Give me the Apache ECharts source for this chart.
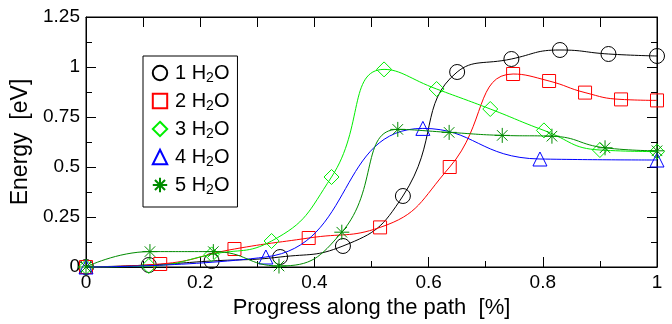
<!DOCTYPE html>
<html><head><meta charset="utf-8">
<script src="https://cdn.jsdelivr.net/npm/echarts@6/dist/echarts.min.js"></script>
<style>html,body{margin:0;padding:0;background:#fff}#c{width:672px;height:324px}</style>
</head><body><div id="c"></div>
<script>
// ---- data ----
const seriesNames = ['1 H2O', '2 H2O', '3 H2O', '4 H2O', '5 H2O'];
const x1 = [0, 0.11, 0.22, 0.34, 0.45, 0.555, 0.65, 0.745, 0.83, 0.915, 1];
const y1 = [0, 0.01, 0.03, 0.05, 0.105, 0.355, 0.975, 1.04, 1.085, 1.065, 1.055];
const x2 = [0, 0.13, 0.26, 0.39, 0.515, 0.637, 0.748, 0.811, 0.874, 0.937, 1];
const y2 = [0, 0.015, 0.09, 0.145, 0.198, 0.5, 0.965, 0.93, 0.872, 0.838, 0.833];
const x3 = [0, 0.11, 0.22, 0.325, 0.43, 0.522, 0.614, 0.708, 0.802, 0.9, 1];
const y3 = [0, 0.005, 0.063, 0.13, 0.45, 0.988, 0.89, 0.79, 0.683, 0.585, 0.577];
const x4 = [0, 0.315, 0.59, 0.795, 1];
const y4 = [0, 0.05, 0.693, 0.54, 0.535];
const x5 = [0, 0.112, 0.223, 0.338, 0.448, 0.546, 0.636, 0.729, 0.816, 0.909, 1];
const y5 = [0, 0.077, 0.077, 0.005, 0.174, 0.688, 0.673, 0.658, 0.654, 0.596, 0.581];
const xTicks = [0, 0.2, 0.4, 0.6, 0.8, 1];
const yTicks = [0, 0.25, 0.5, 0.75, 1, 1.25];
const xTitle = 'Progress along the path  [%]';
const yTitle = 'Energy  [eV]';

const colors = ['#000000', '#ff0000', '#00ee00', '#0000ff', '#008b00'];
const symbols = ['circle', 'rect', 'diamond', 'triangle',
  'path://M0,-10L0,10M-10,0L10,0M-7,-7L7,7M-7,7L7,-7'];
const sizes = [15, 13, 15, 14, 15];
const xs = [x1, x2, x3, x4, x5];
const ys = [y1, y2, y3, y4, y5];

const FONT = 'Liberation Sans';
const series = seriesNames.map((n, i) => ({
  name: n,
  type: 'line',
  xAxisIndex: 0, yAxisIndex: 0,
  data: xs[i].map((x, k) => [x, ys[i][k]]),
  smooth: 0.5,
  clip: false,
  symbol: symbols[i],
  symbolSize: sizes[i],
  showAllSymbol: true,
  lineStyle: { color: colors[i], width: 1 },
  itemStyle: { color: 'rgba(255,255,255,0)', borderColor: colors[i], borderWidth: 1 },
  emphasis: { disabled: true },
  z: 2 + i
}));
// empty helper series so the mirrored top/right axes are drawn
series.push({ name: '_frame', type: 'line', xAxisIndex: 1, yAxisIndex: 1, data: [], silent: true });

const mkLine = () => ({ show: true, onZero: false, lineStyle: { color: '#000', width: 1 } });
const hiddenLabel = { show: true, color: 'rgba(0,0,0,0)', formatter: () => '' };
const option = {
  animation: false,
  backgroundColor: '#fff',
  textStyle: { fontFamily: FONT },
  grid: { left: 86, right: 15, top: 17, bottom: 57, containLabel: false, outerBoundsMode: 'none',
    show: true, borderColor: '#000', borderWidth: 1, backgroundColor: 'rgba(0,0,0,0)' },
  legend: {
    left: 143, top: 56,
    orient: 'vertical',
    data: seriesNames,
    backgroundColor: '#fff',
    borderColor: '#000', borderWidth: 1, borderRadius: 0,
    padding: [7, 8, 10, 6],
    itemWidth: 20, itemHeight: 18, itemGap: 6,
    lineStyle: { opacity: 0 },
    formatter: n => '{a|' + n.replace('H2O', 'H') + '}{s|2}{a|O}',
    textStyle: {
      color: '#000', fontFamily: FONT,
      rich: {
        a: { fontSize: 20, fontFamily: FONT, color: '#000', lineHeight: 22 },
        s: { fontSize: 14, fontFamily: FONT, color: '#000', padding: [10, 0, 0, 0] }
      }
    },
    selectedMode: false
  },
  xAxis: [{
    type: 'value', min: 0, max: 1, interval: 0.2, position: 'bottom',
    axisLine: mkLine(),
    axisTick: { inside: true, length: 10, lineStyle: { color: '#000' } },
    minorTick: { show: true, splitNumber: 2, length: 6, lineStyle: { color: '#000' } },
    splitLine: { show: false },
    axisLabel: { fontSize: 19, color: '#000', margin: 6, fontFamily: FONT,
      formatter: v => String(xTicks.reduce((a, b) => Math.abs(b - v) < Math.abs(a - v) ? b : a)) },
    name: xTitle, nameLocation: 'middle', nameGap: 26,
    nameTextStyle: { fontSize: 22, color: '#000', fontFamily: FONT }
  }, {
    type: 'value', min: 0, max: 1, interval: 0.1, position: 'top',
    axisLine: mkLine(),
    axisTick: { show: true, inside: true, length: 10, lineStyle: { color: '#000', width: 1 } },
    splitLine: { show: false },
    axisLabel: hiddenLabel
  }],
  yAxis: [{
    type: 'value', min: 0, max: 1.25, interval: 0.25, position: 'left',
    axisLine: mkLine(),
    axisTick: { inside: true, length: 10, lineStyle: { color: '#000' } },
    minorTick: { show: true, splitNumber: 2, length: 6, lineStyle: { color: '#000' } },
    splitLine: { show: false },
    axisLabel: { fontSize: 19, color: '#000', margin: 6, fontFamily: FONT,
      formatter: v => String(yTicks.reduce((a, b) => Math.abs(b - v) < Math.abs(a - v) ? b : a)) },
    name: yTitle, nameLocation: 'middle', nameGap: 52,
    nameTextStyle: { fontSize: 23, color: '#000', fontFamily: FONT }
  }, {
    type: 'value', min: 0, max: 1.25, interval: 0.25, position: 'right',
    axisLine: mkLine(),
    axisTick: { show: true, inside: true, length: 10, lineStyle: { color: '#000', width: 1 } },
    minorTick: { show: true, splitNumber: 2, length: 6, lineStyle: { color: '#000' } },
    splitLine: { show: false },
    axisLabel: hiddenLabel
  }],
  series
};
const chart = echarts.init(document.getElementById('c'), null, { renderer: 'canvas' });
chart.setOption(option);
</script>
</body></html>
